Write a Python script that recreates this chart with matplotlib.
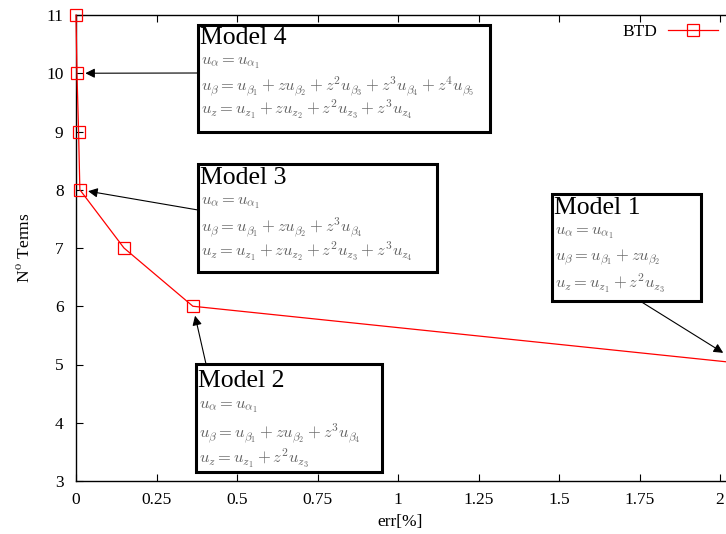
import matplotlib.pyplot as plt
from matplotlib.patches import Rectangle

plt.rcParams['font.family'] = ['Liberation Serif', 'DejaVu Serif']
plt.rcParams['mathtext.fontset'] = 'cm'

# data
err = [0.0, 0.003, 0.008, 0.012, 0.149, 0.363, 2.1]
n_terms = [11, 10, 9, 8, 7, 6, 5]
xticks = [0, 0.25, 0.5, 0.75, 1, 1.25, 1.5, 1.75, 2]
xtick_labels = ["0", "0.25", "0.5", "0.75", "1", "1.25", "1.5", "1.75", "2"]
yticks = [3, 4, 5, 6, 7, 8, 9, 10, 11]

W, H = 726, 534
fig = plt.figure(figsize=(W / 100, H / 100), dpi=100)
# axes run past the right edge of the picture (cropped like the original)
ax = fig.add_axes([76 / W, (H - 481) / H, 805 / W, 466 / H])
ax.plot(err, n_terms, color='red', lw=0.9, marker='s', ms=8.5, mfc='none',
        mec='red', mew=0.9, label='BTD', clip_on=False, zorder=3)
ax.set_xlim(0, 2.5)
ax.set_ylim(3, 11)
ax.set_xticks(xticks)
ax.set_xticklabels(xtick_labels)
ax.set_yticks(yticks)
ax.tick_params(direction='in', length=5, width=0.8, top=True, right=True,
               labelsize=12.5)
ax.tick_params(axis='y', pad=9)
ax.tick_params(axis='x', pad=8)
for s in ax.spines.values():
    s.set_linewidth(1.0)
ax.set_xlabel('err[%]', fontsize=12.5)
ax.set_ylabel(r'N$^{\rm o}$ Terms', fontsize=12.5)
ax.xaxis.set_label_coords((400 - 76) / 805, -0.07)
ax.yaxis.set_label_coords(-0.052, 0.5)

ax.legend(loc='center right', bbox_to_anchor=(718 / W, 1 - 32 / H),
          bbox_transform=fig.transFigure, frameon=False, markerfirst=False,
          fontsize=12.5, handlelength=2.9, handletextpad=0.6, borderpad=0,
          borderaxespad=0)


def fp(x, y):
    return (x / W, 1 - y / H)


def model_box(x0, y0, x1, y1, title, ty, eqs, eys):
    fig.patches.append(Rectangle(fp(x0, y1), (x1 - x0) / W, (y1 - y0) / H,
                                 transform=fig.transFigure, facecolor='white',
                                 edgecolor='black', lw=2.2, zorder=5))
    fig.text(*fp(x0 + 2, ty), title, fontsize=18.5, va='center', ha='left', zorder=6)
    for e, yy in zip(eqs, eys):
        fig.text(*fp(x0 + 3, yy), e, fontsize=11.9, color='#666666',
                 va='center', ha='left', zorder=6)


ua = r'$u_\alpha = u_{\alpha_1}$'
model_box(198, 25, 490, 132, 'Model 4', 38,
          [ua, r'$u_\beta = u_{\beta_1} + z u_{\beta_2} + z^2 u_{\beta_3} + z^3 u_{\beta_4} + z^4 u_{\beta_5}$',
           r'$u_z = u_{z_1} + z u_{z_2} + z^2 u_{z_3} + z^3 u_{z_4}$'], [63, 87, 109])
model_box(198, 164, 437, 272, 'Model 3', 178,
          [ua, r'$u_\beta = u_{\beta_1} + z u_{\beta_2} + z^3 u_{\beta_4}$',
           r'$u_z = u_{z_1} + z u_{z_2} + z^2 u_{z_3} + z^3 u_{z_4}$'], [203, 228, 251])
model_box(552, 194, 701, 301, 'Model 1', 208,
          [ua, r'$u_\beta = u_{\beta_1} + z u_{\beta_2}$',
           r'$u_z = u_{z_1} + z^2 u_{z_3}$'], [233, 258, 283])
model_box(196, 364, 382, 472, 'Model 2', 381,
          [ua, r'$u_\beta = u_{\beta_1} + z u_{\beta_2} + z^3 u_{\beta_4}$',
           r'$u_z = u_{z_1} + z^2 u_{z_3}$'], [407, 434, 458])

arrow = dict(arrowstyle='-|>', color='black', lw=0.8, mutation_scale=14,
             shrinkA=0, shrinkB=6)
ax.annotate('', xy=(err[1], n_terms[1]), xytext=fp(198, 73),
            textcoords='figure fraction', arrowprops=arrow, zorder=4)
ax.annotate('', xy=(err[3], n_terms[3]), xytext=fp(198, 210),
            textcoords='figure fraction', arrowprops=arrow, zorder=4)
ax.annotate('', xy=(err[5], n_terms[5]), xytext=fp(206, 364),
            textcoords='figure fraction', arrowprops=dict(arrow, shrinkB=7), zorder=4)
ax.annotate('', xy=(2.01, 5.2), xytext=fp(640, 301),
            textcoords='figure fraction', arrowprops=dict(arrow, shrinkB=0), zorder=4)

fig.savefig('out.png', dpi=100)
